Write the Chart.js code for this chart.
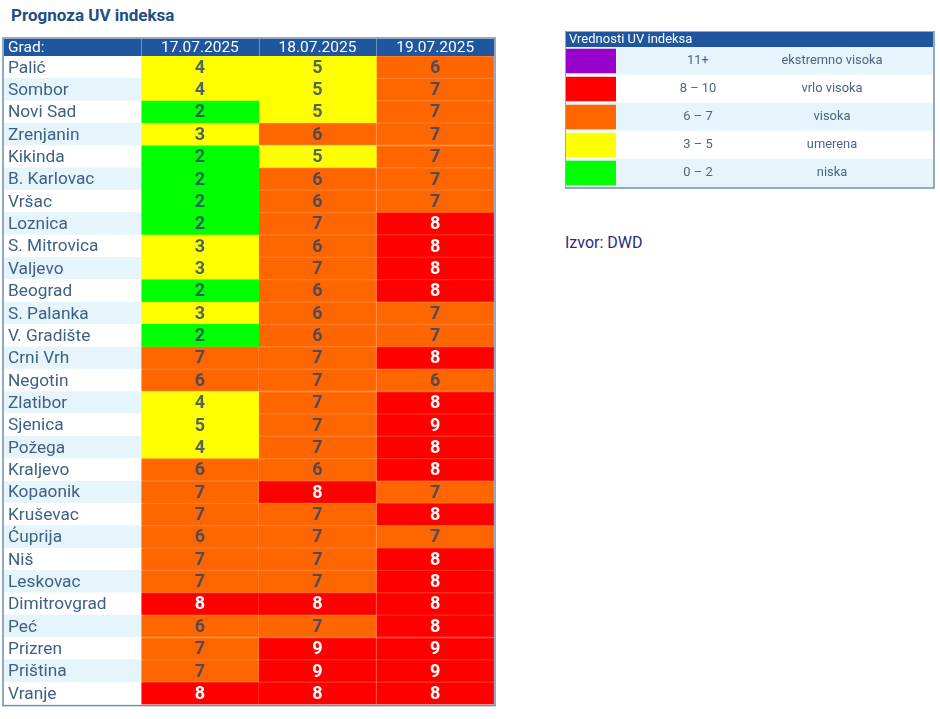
<!DOCTYPE html>
<html>
<head>
<meta charset="utf-8">
<title>Prognoza UV indeksa</title>
<script src="https://cdn.jsdelivr.net/npm/chart.js@4"></script>
<style>
  html, body { margin: 0; padding: 0; background: #fff; }
  body { width: 940px; height: 719px; position: relative; overflow: hidden; font-family: Roboto, sans-serif; }
  #title { position: absolute; left: 11px; top: 5px; font-size: 17px; font-weight: 700; color: #1f4e85; }
  #source { position: absolute; left: 565px; top: 233px; font-size: 16px; color: #2b2b7a; }
  #uvTable { position: absolute; left: 0; top: 0; }
  #uvLegend { position: absolute; left: 565px; top: 31px; }
</style>
</head>
<body>
<div id="title">Prognoza UV indeksa</div>
<div id="source">Izvor: DWD</div>
<canvas id="uvTable" width="500" height="719"></canvas>
<canvas id="uvLegend" width="370" height="158"></canvas>

<script>
const cityHeader = "Grad:";
const dates = ["17.07.2025", "18.07.2025", "19.07.2025"];
const cities = ["Palić", "Sombor", "Novi Sad", "Zrenjanin", "Kikinda", "B. Karlovac", "Vršac", "Loznica",
  "S. Mitrovica", "Valjevo", "Beograd", "S. Palanka", "V. Gradište", "Crni Vrh", "Negotin", "Zlatibor",
  "Sjenica", "Požega", "Kraljevo", "Kopaonik", "Kruševac", "Ćuprija", "Niš", "Leskovac", "Dimitrovgrad",
  "Peć", "Prizren", "Priština", "Vranje"];
const day1 = [4, 4, 2, 3, 2, 2, 2, 2, 3, 3, 2, 3, 2, 7, 6, 4, 5, 4, 6, 7, 7, 6, 7, 7, 8, 6, 7, 7, 8];
const day2 = [5, 5, 5, 6, 5, 6, 6, 7, 6, 7, 6, 6, 6, 7, 7, 7, 7, 7, 6, 8, 7, 7, 7, 7, 8, 7, 9, 9, 8];
const day3 = [6, 7, 7, 7, 7, 7, 7, 8, 8, 8, 8, 7, 7, 8, 6, 8, 9, 8, 8, 7, 8, 7, 8, 8, 8, 8, 9, 9, 8];

const legendTitle = "Vrednosti UV indeksa";
const legendRanges = ["11+", "8 – 10", "6 – 7", "3 – 5", "0 – 2"];
const legendNames = ["ekstremno visoka", "vrlo visoka", "visoka", "umerena", "niska"];
const legendColors = ["#9900cc", "#ff0000", "#ff6600", "#ffff00", "#00ff00"];
const edgeColors = ["#a822d4", "#ff2a1e", "#ff7d2a", "#ffff00", "#00ff00"];

const stripe = "#e6f5fb";
const headerBlue = "#1f569f";
const frameBlue = "#6d8db3";
const cityColLeft = -1.165; // the x scale counts day columns, city column sits left of 0

function uvBand(v) {
  if (v >= 11) return 0;
  if (v >= 8) return 1;
  if (v >= 6) return 2;
  if (v >= 3) return 3;
  return 4;
}

function stripeColors(count, firstWhite) {
  return Array.from({ length: count }, (_, i) => (i % 2 === 0) === firstWhite ? "#ffffff" : stripe);
}

const dayData = [day1, day2, day3];
const dayDatasets = dayData.map((values, col) => ({
  label: dates[col],
  data: values.map(() => [col, col + 1]),
  backgroundColor: values.map(v => legendColors[uvBand(v)]),
  borderColor: values.map(v => edgeColors[uvBand(v)]),
  borderWidth: 1,
  barPercentage: 1,
  categoryPercentage: 1
}));

const tableDecor = {
  id: "tableDecor",
  beforeDraw(chart) {
    const { ctx, chartArea, scales } = chart;
    ctx.save();
    ctx.fillStyle = headerBlue;
    ctx.fillRect(chartArea.left, chartArea.top - 17, chartArea.right - chartArea.left, 17);
    ctx.strokeStyle = "rgba(255,255,255,0.35)";
    ctx.lineWidth = 1;
    dates.forEach((d, i) => {
      const x = Math.round(scales.x.getPixelForValue(i)) + 0.5;
      ctx.beginPath();
      ctx.moveTo(x, chartArea.top - 17);
      ctx.lineTo(x, chartArea.top);
      ctx.stroke();
    });
    ctx.restore();
  },
  afterDraw(chart) {
    const { ctx, chartArea, scales } = chart;
    ctx.save();
    ctx.fillStyle = "#ffffff";
    ctx.font = "15.5px Roboto";
    ctx.textAlign = "left";
    ctx.textBaseline = "middle";
    ctx.fillText(cityHeader, chartArea.left + 4, chartArea.top - 8);

    // numbers inside the cells
    ctx.font = "bold 18px Roboto";
    ctx.textAlign = "center";
    dayData.forEach((values, col) => {
      values.forEach((v, row) => {
        ctx.fillStyle = v >= 8 ? "#ffffff" : "rgba(42,70,105,0.82)";
        ctx.fillText(v, scales.x.getPixelForValue(col + 0.5), scales.y.getPixelForValue(row) + 1);
      });
    });

    ctx.strokeStyle = frameBlue;
    ctx.lineWidth = 1.5;
    ctx.strokeRect(chartArea.left - 1, chartArea.top - 18, chartArea.right - chartArea.left + 2, chartArea.bottom - chartArea.top + 19);
    ctx.restore();
  }
};

new Chart(document.getElementById("uvTable"), {
  type: "bar",
  data: {
    labels: cities,
    datasets: [{
      label: cityHeader,
      data: cities.map(() => [cityColLeft, 0]),
      backgroundColor: stripeColors(cities.length, true),
      borderWidth: 0,
      barPercentage: 1,
      categoryPercentage: 1
    }].concat(dayDatasets)
  },
  options: {
    indexAxis: "y",
    responsive: false,
    animation: false,
    layout: { padding: { left: 4, right: 6, top: 39, bottom: 14 } },
    plugins: { legend: { display: false }, title: { display: false }, tooltip: { enabled: false } },
    scales: {
      x: {
        position: "top",
        min: cityColLeft,
        max: 3,
        grid: { display: false, drawTicks: false, tickLength: 0 },
        border: { display: false },
        afterBuildTicks(axis) { axis.ticks = dates.map((d, i) => ({ value: i + 0.5 })); },
        afterFit(axis) { axis.height = 17; },
        ticks: {
          color: "#ffffff",
          font: { family: "Roboto", size: 15.5 },
          padding: -1,
          maxRotation: 0,
          autoSkip: false,
          callback: (value) => dates[Math.floor(value)]
        }
      },
      y: {
        grid: { display: false, drawTicks: false, tickLength: 0 },
        border: { display: false },
        afterFit(axis) { axis.width = 0; },
        ticks: {
          mirror: true,
          z: 1,
          autoSkip: false,
          padding: 4,
          labelOffset: 1,
          color: "#3f5f85",
          font: { family: "Roboto", size: 17.3 }
        }
      }
    },
    datasets: { bar: { grouped: false } }
  },
  plugins: [tableDecor]
});

const legendDecor = {
  id: "legendDecor",
  beforeDraw(chart) {
    const { ctx, chartArea } = chart;
    ctx.save();
    ctx.fillStyle = headerBlue;
    ctx.fillRect(chartArea.left, chartArea.top - 15, chartArea.right - chartArea.left, 15);
    ctx.restore();
  },
  afterDraw(chart) {
    const { ctx, chartArea, scales } = chart;
    ctx.save();
    ctx.fillStyle = "#ffffff";
    ctx.font = "13px Roboto";
    ctx.textBaseline = "middle";
    ctx.textAlign = "left";
    ctx.fillText(legendTitle, chartArea.left + 3, chartArea.top - 7);

    ctx.fillStyle = "#4a6585";
    ctx.font = "12.9px Roboto";
    ctx.textAlign = "center";
    legendRanges.forEach((r, i) => {
      const y = scales.y.getPixelForValue(i);
      ctx.fillText(r, 698 - 565, y);
      ctx.fillText(legendNames[i], 832 - 565, y);
    });

    ctx.strokeStyle = frameBlue;
    ctx.lineWidth = 1.5;
    ctx.strokeRect(chartArea.left - 1, chartArea.top - 16, chartArea.right - chartArea.left + 2, chartArea.bottom - chartArea.top + 17);
    ctx.restore();
  }
};

new Chart(document.getElementById("uvLegend"), {
  type: "bar",
  data: {
    labels: legendRanges,
    datasets: [
      {
        label: "swatch",
        data: legendRanges.map(() => [0, 50]),
        backgroundColor: legendColors,
        borderWidth: 0,
        barPercentage: 0.88,
        categoryPercentage: 1
      },
      {
        label: "row",
        data: legendRanges.map(() => [0, 367]),
        backgroundColor: stripeColors(legendRanges.length, false),
        borderWidth: 0,
        barPercentage: 1,
        categoryPercentage: 1
      }
    ]
  },
  options: {
    indexAxis: "y",
    responsive: false,
    animation: false,
    layout: { padding: { left: 1, right: 2, top: 16, bottom: 2 } },
    plugins: { legend: { display: false }, title: { display: false }, tooltip: { enabled: false } },
    scales: {
      x: { display: false, min: 0, max: 367 },
      y: { display: false, grid: { display: false } }
    },
    datasets: { bar: { grouped: false } }
  },
  plugins: [legendDecor]
});
</script>
</body>
</html>
